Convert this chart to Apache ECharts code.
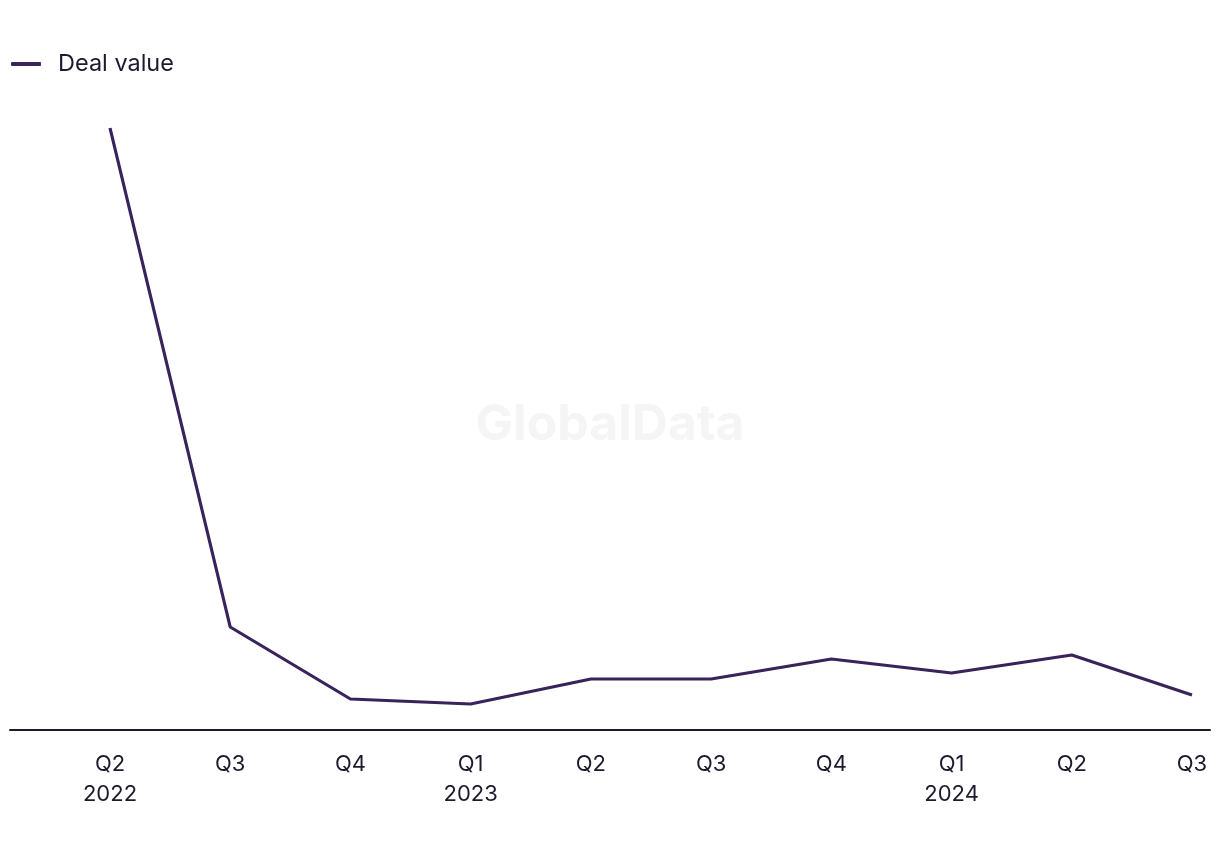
<!DOCTYPE html>
<html><head><meta charset="utf-8">
<script src="https://cdn.jsdelivr.net/npm/echarts@6/dist/echarts.min.js"></script>
<style>html,body{margin:0;padding:0;background:#fff}#c{width:1220px;height:850px}</style>
</head><body><div id="c"></div>
<script>
const categories = ['Q2\n2022','Q3','Q4','Q1\n2023','Q2','Q3','Q4','Q1\n2024','Q2','Q3'];
const dealValue = [60.2, 10.3, 3.1, 2.6, 5.1, 5.1, 7.1, 5.7, 7.5, 3.5];
const seriesName = 'Deal value';
const lineColor = '#38235a';
const textColor = '#1c1b2e';
const font = 'Inter, "Liberation Sans", sans-serif';

const chart = echarts.init(document.getElementById('c'));
chart.setOption({
  animation: false,
  backgroundColor: '#fff',
  graphic: [{
    type: 'text', left: 'center', top: 400, z: 0,
    style: { text: 'GlobalData', fontSize: 50, fontWeight: 'bold', fontFamily: font, fill: '#f5f5f5' }
  }],
  legend: {
    left: 6, top: 47, itemWidth: 30, itemHeight: 4, itemGap: 10,
    icon: 'roundRect',
    textStyle: { fontSize: 23.5, color: textColor, fontFamily: font, padding: [0,0,0,12] },
    data: [seriesName]
  },
  grid: [
    { left: 110, right: 28, top: 80, bottom: 120, containLabel: false },
    { left: 10, right: 10, top: 80, bottom: 120, containLabel: false }
  ],
  xAxis: [{
    gridIndex: 0, type: 'category', data: categories, boundaryGap: false,
    axisLine: { show: false }, axisTick: { show: false },
    axisLabel: { fontSize: 22, color: textColor, fontFamily: font, margin: 19, lineHeight: 30, interval: 0 }
  }, {
    gridIndex: 1, type: 'value', min: 0, max: 1,
    axisLine: { show: true, lineStyle: { color: '#1c1b2e', width: 2 } },
    axisTick: { show: false }, axisLabel: { show: false }, splitLine: { show: false }
  }],
  yAxis: [{
    gridIndex: 0, type: 'value', min: 0, max: 65, show: false, splitLine: { show: false }
  }, {
    gridIndex: 1, type: 'value', min: 0, max: 1, show: false, splitLine: { show: false }
  }],
  series: [{
    name: seriesName, type: 'line', xAxisIndex: 0, yAxisIndex: 0,
    data: dealValue, symbol: 'none', z: 5,
    lineStyle: { color: lineColor, width: 3.2 }, itemStyle: { color: lineColor }
  }]
});
</script></body></html>
